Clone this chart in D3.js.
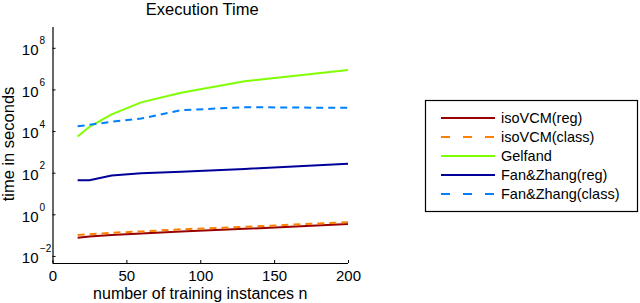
<!DOCTYPE html>
<html>
<head>
<meta charset="utf-8">
<script src="https://cdn.jsdelivr.net/npm/d3@7"></script>
<style>
  body { margin: 0; background: #fff; }
  svg { display: block; font-family: "Liberation Sans", Arial, Helvetica, sans-serif; }
</style>
</head>
<body>
<svg id="chart" width="640" height="303"></svg>
<script>
// ---- data ----
const nValues = [17, 25, 40, 60, 87, 130, 200];
const isoVCMreg   = [0.075, 0.085, 0.10, 0.12, 0.15, 0.20, 0.34];
const isoVCMclass = [0.10, 0.11, 0.13, 0.15, 0.19, 0.25, 0.42];
const gelfand     = [5.5e3, 1.6e4, 6.3e4, 2.4e5, 6.9e5, 2.5e6, 8.5e6];
const fanZhangReg   = [43, 43, 74, 93, 112, 152, 270];
const fanZhangClass = [1.7e4, 2.0e4, 2.8e4, 4.0e4, 1.0e5, 1.4e5, 1.3e5];
const seriesNames = ["isoVCM(reg)", "isoVCM(class)", "Gelfand", "Fan&Zhang(reg)", "Fan&Zhang(class)"];
const xTicks = [0, 50, 100, 150, 200];
const yTickExps = [-2, 0, 2, 4, 6, 8];

const seriesValues = [isoVCMreg, isoVCMclass, gelfand, fanZhangReg, fanZhangClass];
const styles = [
  { color: "#990000", dash: null },
  { color: "#ff8000", dash: "7,5", legendDash: "9,13" },
  { color: "#80ff00", dash: null },
  { color: "#000099", dash: null },
  { color: "#0080ff", dash: "7,5", legendDash: "9,13" }
];

const svg = d3.select("#chart");
const pLeft = 52.5, pRight = 348, pTop = 27, pBottom = 263;

const x = d3.scaleLinear().domain([0, 200]).range([pLeft, pRight]);
const y = d3.scaleLog().domain([Math.pow(10, -2.34), 1e9]).range([pBottom, pTop]);

// title
svg.append("text").attr("x", (pLeft + pRight) / 2 + 2).attr("y", 15)
  .attr("text-anchor", "middle").attr("font-size", 16.5).attr("fill", "#000")
  .text("Execution Time");

// lines
const line = d3.line().x(d => x(d[0])).y(d => y(d[1]));
seriesValues.forEach((vals, i) => {
  const pts = nValues.map((n, j) => [n, vals[j]]);
  svg.append("path").datum(pts)
    .attr("d", line)
    .attr("fill", "none")
    .attr("stroke", styles[i].color)
    .attr("stroke-width", 2)
    .attr("stroke-dasharray", styles[i].dash);
});

// x axis
const xAxis = d3.axisBottom(x).tickValues(xTicks).tickSize(-3).tickPadding(7).tickFormat(d3.format("d"));
const gx = svg.append("g").attr("transform", `translate(0,${pBottom})`).call(xAxis);
gx.select(".domain").attr("d", `M${pLeft},0.5H${pRight}`).attr("stroke", "#000").attr("stroke-width", 1.2);
gx.selectAll(".tick line").attr("stroke", "#000");
gx.selectAll(".tick text").attr("font-size", 15).attr("fill", "#000")
  .attr("font-family", "Liberation Sans, Arial, sans-serif").attr("y", 17.5).attr("dy", "0");

// y axis
const yAxis = d3.axisLeft(y).tickValues(yTickExps.map(e => Math.pow(10, e))).tickSize(-3).tickPadding(0).tickFormat("");
const gy = svg.append("g").attr("transform", `translate(${pLeft},0)`).call(yAxis);
gy.select(".domain").attr("d", `M0.5,${pTop}V${pBottom}`).attr("stroke", "#000").attr("stroke-width", 1.2);
gy.selectAll(".tick line").attr("stroke", "#000");
gy.selectAll(".tick").each(function (d) {
  const e = Math.round(Math.log10(d));
  d3.select(this).append("text")
    .attr("x", -14).attr("y", 0).attr("dy", "0.45em")
    .attr("text-anchor", "end").attr("font-size", 15).attr("fill", "#000")
    .text("10");
  d3.select(this).append("text")
    .attr("x", e < 0 ? -12.5 : -13).attr("y", -4)
    .attr("text-anchor", "start").attr("font-size", 10).attr("fill", "#000")
    .text(e < 0 ? "\u2212" + Math.abs(e) : String(e));
});

// axis labels
svg.append("text").attr("x", (pLeft + pRight) / 2 + 0).attr("y", 298.5)
  .attr("text-anchor", "middle").attr("font-size", 16).attr("fill", "#000")
  .text("number of training instances n");
svg.append("text").attr("transform", `translate(14,${144}) rotate(-90)`)
  .attr("text-anchor", "middle").attr("font-size", 16.5).attr("fill", "#000")
  .text("time in seconds");

// legend
const lg = svg.append("g");
lg.append("rect").attr("x", 425.5).attr("y", 100.5).attr("width", 212).attr("height", 111)
  .attr("fill", "#fff").attr("stroke", "#000").attr("stroke-width", 1.2);
const legendY = d3.scalePoint().domain(seriesNames).range([118, 194]);
seriesNames.forEach((name, i) => {
  const yy = legendY(name);
  lg.append("line").attr("x1", 441).attr("x2", 495).attr("y1", yy).attr("y2", yy)
    .attr("stroke", styles[i].color).attr("stroke-width", 2)
    .attr("stroke-dasharray", styles[i].legendDash || null);
  lg.append("text").attr("x", 501).attr("y", yy).attr("dy", "0.36em")
    .attr("font-size", 14.5).attr("fill", "#000").text(name);
});
</script>
</body>
</html>
